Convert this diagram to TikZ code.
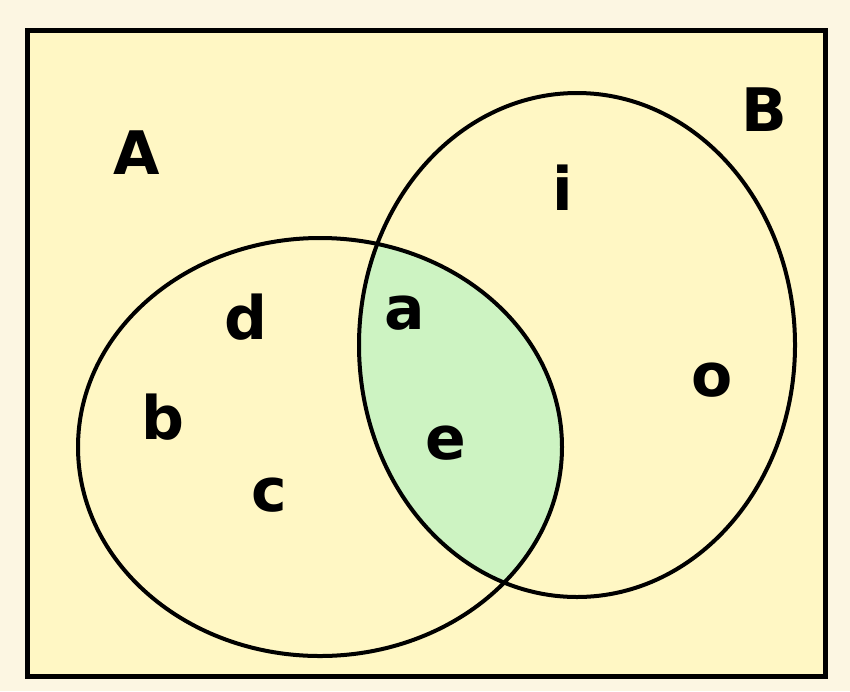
\documentclass[tikz,border=0pt]{standalone}
\usepackage{fontspec}
\setmainfont{DejaVu Sans}
\definecolor{marginbg}{HTML}{FCF6E2}
\definecolor{panelbg}{HTML}{FFF7C4}
\definecolor{overlap}{HTML}{CDF3C2}
\tikzset{
  lbl/.style={inner sep=0pt, font=\fontsize{60}{60}\selectfont\bfseries},
  setline/.style={draw=black, line width=4pt},
}
\begin{document}
\begin{tikzpicture}[x=1pt,y=-1pt]
\useasboundingbox (0,0) rectangle (850,691);
\fill[marginbg] (0,0) rectangle (850,691);
\filldraw[fill=panelbg, draw=black, line width=5pt] (27,30) rectangle (825,676);
\begin{scope}
  \clip (320,447) ellipse [x radius=242, y radius=209];
  \fill[overlap] (577,345) ellipse [x radius=218, y radius=252];
\end{scope}
\draw[setline] (320,447) ellipse [x radius=242, y radius=209];
\draw[setline] (577,345) ellipse [x radius=218, y radius=252];
\node[lbl] (A) at (137,153) {A};
\node[lbl] (B) at (764,110) {B};
\node[lbl] (i) at (563,188) {i};
\node[lbl] (d) at (246,317) {d};
\node[lbl] (b) at (163,417) {b};
\node[lbl] (c) at (269,495) {c};
\node[lbl] (a) at (405,313) {a};
\node[lbl] (e) at (446,443) {e};
\node[lbl] (o) at (712,380) {o};
\end{tikzpicture}
\end{document}
